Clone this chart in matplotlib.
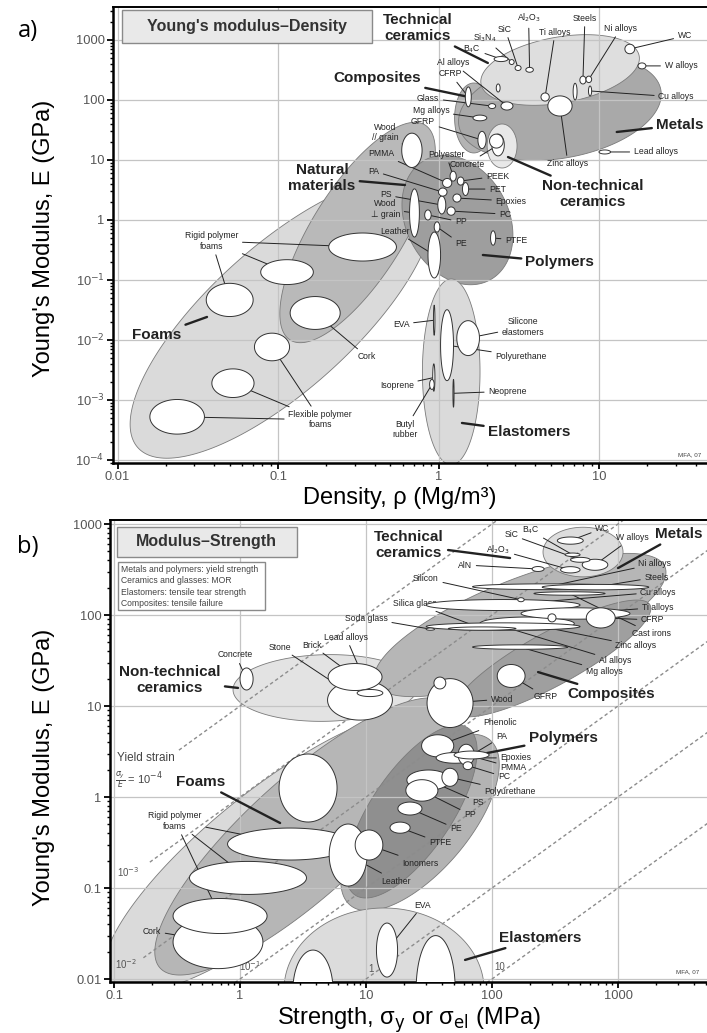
import numpy as np
import matplotlib
matplotlib.use("Agg")
import matplotlib.pyplot as plt
from matplotlib.patches import Rectangle
from matplotlib.ticker import FixedLocator, FixedFormatter, LogLocator, NullFormatter

plt.rcParams["font.family"] = ["Liberation Sans", "DejaVu Sans"]
plt.rcParams["mathtext.fontset"] = "dejavusans"

# ---------------- panel a: Young's modulus vs density ----------------
# material bubbles: density range (Mg/m^3), modulus range (GPa)
a_names = ["WC", "W alloys", "Cu alloys", "Steels", "Ni alloys", "Cast irons",
           "Ti alloys", "Zinc alloys", "Al2O3", "SiC", "Si3N4", "B4C",
           "Al alloys", "Glass", "CFRP", "Glass ceramic", "Mg alloys", "GFRP",
           "Concrete", "Stone", "Lead alloys", "Wood //", "Wood ⊥", "Leather",
           "Cork", "PTFE", "PE", "PP", "Polyester", "PMMA", "PEEK", "PET", "PA",
           "Epoxies", "PS", "PC", "EVA", "Polyurethane", "Silicone elastomers",
           "Isoprene", "Butyl rubber", "Neoprene",
           "RPF1", "RPF2", "RPF3", "FPF1", "FPF2", "FPF3"]
a_rho = [(14.5, 16.7), (17.5, 19.6), (8.6, 9.0), (7.6, 8.3), (8.3, 9.0), (6.9, 7.3),
         (4.35, 4.9), (4.8, 6.8), (3.5, 3.9), (3.0, 3.27), (2.76, 2.96), (2.22, 2.71),
         (2.45, 2.91), (2.05, 2.27), (1.47, 1.6), (2.29, 2.42), (1.64, 2.0), (1.76, 1.98),
         (2.15, 2.57), (2.08, 2.53), (10.0, 11.8), (0.59, 0.79), (0.66, 0.76), (0.86, 1.03),
         (0.119, 0.244), (2.11, 2.27), (0.94, 1.02), (0.82, 0.9), (1.18, 1.29), (1.06, 1.21),
         (1.31, 1.44), (1.41, 1.54), (1.0, 1.13),
         (1.23, 1.38), (0.99, 1.11), (1.13, 1.27), (0.93, 0.95), (1.03, 1.24), (1.3, 1.8),
         (0.92, 0.95), (0.88, 0.94), (1.23, 1.25),
         (0.207, 0.547), (0.078, 0.166), (0.0357, 0.070), (0.0713, 0.118), (0.0387, 0.0709),
         (0.0159, 0.0348)]
a_E = [(590, 850), (330, 415), (117, 171), (185, 250), (195, 250), (100, 190),
       (96, 131), (54, 117), (290, 350), (310, 376), (390, 472), (437, 530),
       (68, 93), (72, 87), (77, 165), (136, 185), (45, 56), (15.5, 30),
       (11.7, 27), (15.8, 27), (12.6, 14.7), (7.5, 28), (0.52, 3.3), (0.108, 0.63),
       (0.015, 0.053), (0.38, 0.66), (0.63, 0.93), (1.0, 1.47), (4.45, 6.5), (3.49, 4.92),
       (3.82, 5.2), (2.56, 4.2), (2.5, 3.41),
       (1.99, 2.71), (1.26, 2.51), (1.2, 1.65), (0.012, 0.038), (0.0021, 0.032), (0.0055, 0.021),
       (0.0014, 0.004), (0.0015, 0.0022), (0.00076, 0.0022),
       (0.207, 0.607), (0.084, 0.218), (0.0246, 0.088), (0.0045, 0.013), (0.0011, 0.0033),
       (0.00027, 0.00102)]

# family envelopes: the two far ends (density, modulus) and width/length ratio
a_env = ["Foams", "Natural materials", "Polymers", "Elastomers", "Composites",
         "Metals", "Technical ceramics", "Non-technical ceramics"]
a_env_p1 = [(0.0134, 1.6e-4), (0.119, 0.01), (0.824, 10), (1.20, 0.104), (1.66, 192),
            (1.34, 37), (1.84, 185), (2.49, 39.8)]
a_env_p2 = [(0.831, 3.41), (0.824, 38.3), (2.09, 0.1), (1.20, 8.3e-5), (1.66, 13.1),
            (24.3, 147), (17.8, 541), (2.49, 7.36)]
a_env_ratio = [0.37, 0.36, 0.75, 0.31, 0.55, 0.49, 0.41, 0.68]

# ---------------- panel b: modulus vs strength ----------------
# material bubbles: strength range (MPa), modulus range (GPa)
b_names = ["WC", "W alloys", "B4C", "SiC", "Al2O3", "AlN", "Ni alloys", "Steels",
           "Cu alloys", "Ti alloys", "Cast irons", "CFRP", "Zinc alloys", "Al alloys",
           "Mg alloys", "Silica glass", "Soda glass", "Silicon", "Glass ceramic", "GFRP",
           "Wood", "Wood ⊥", "Lead alloys", "Brick", "Stone", "Concrete",
           "Phenolic", "PA", "Epoxies", "PMMA", "PC", "Polyurethane", "PS", "PP", "PE",
           "PTFE", "Ionomers", "Leather", "Dense foam", "RPF1", "RPF2", "RPF3", "Cork",
           "Silicone elastomers", "EVA", "Polyurethane elastomer"]
b_sigma = [(330, 530), (520, 830), (380, 500), (420, 600), (350, 500), (208, 259), (70, 1100), (250, 1755),
           (30, 500), (170, 1245), (215, 790), (560, 950), (80, 450), (30, 500),
           (70, 400), (45, 155), (30, 35), (160, 180), (278, 322), (110, 183),
           (30.5, 70.7), (34.6, 43), (8.5, 13.6), (5.0, 13.4), (4.95, 16.2), (1.0, 1.27),
           (27.6, 49.7), (50, 94.8), (36, 71.7), (53.8, 72.4), (59, 70), (40, 53.8), (21.1, 46.4),
           (20.7, 37.2), (17.9, 27.8),
           (15.5, 22.4), (8.2, 13.6), (5.1, 10.2), (2.04, 5.89), (0.796, 7.81), (0.397, 3.37),
           (0.294, 1.64), (0.294, 1.52),
           (2.63, 5.47), (12.1, 17.8), (25, 51)]
b_E = [(600, 720), (310, 410), (440, 480), (380, 430), (290, 340), (301, 341), (190, 220), (189, 217),
       (112, 148), (90, 120), (165, 180), (72, 120), (68, 95), (68, 82),
       (42, 47), (68, 74), (68, 72), (140, 155), (84, 103), (16, 28.6),
       (5.8, 20), (15.4, 20.8), (12.7, 15.2), (14.8, 29.3), (7.0, 19.3), (15, 26.2),
       (2.76, 4.83), (2.62, 3.2), (2.35, 3.08), (2.24, 3.8), (2.0, 2.44), (1.31, 2.07), (1.19, 1.98),
       (0.9, 1.55), (0.634, 0.88),
       (0.40, 0.53), (0.203, 0.434), (0.105, 0.505), (0.531, 2.97), (0.203, 0.456), (0.085, 0.196),
       (0.0316, 0.0767), (0.013, 0.05),
       (0.00275, 0.0208), (0.0105, 0.0412), (0.002, 0.03)]

b_env = ["Non-technical ceramics", "Foams outer", "Foams", "Metals", "Composites",
         "Polymers outer", "Polymers", "Technical ceramics", "Elastomers"]
b_env_p1 = [(0.88, 15.0), (0.0896, 0.0086), (0.232, 0.0132), (11.8, 17.9), (50.9, 8.6),
            (7.46, 0.065), (8.18, 0.0838), (254, 492), (13.9, 0.0603)]
b_env_p2 = [(25.9, 16.6), (38.7, 7.02), (46.4, 10.3), (2360, 337), (1795, 129),
            (96.4, 4.23), (64.5, 5.73), (1096, 492), (13.9, 0.00095)]
b_env_ratio = [0.36, 0.30, 0.30, 0.29, 0.24, 0.45, 0.40, 0.62, 1.22]

# yield strain guide lines sigma_y / E
b_strain = [1e-4, 1e-3, 1e-2, 1e-1, 1, 10]
b_strain_text = ["", "10$^{-3}$", "10$^{-2}$", "10$^{-1}$", "1", "10"]

# ---------------- styles ----------------
a_env_fill = {"Foams": "#dadada", "Natural materials": "#b9b9b9", "Polymers": "#9e9e9e",
              "Elastomers": "#dadada", "Composites": "#b3b3b3", "Metals": "#a9a9a9",
              "Technical ceramics": "#dedede", "Non-technical ceramics": "#e8e8e8"}
b_env_fill = {"Non-technical ceramics": "#e3e3e3", "Foams outer": "#dadada", "Foams": "#b6b6b6",
              "Metals": "#b6b6b6", "Composites": "#9f9f9f", "Polymers outer": "#b3b3b3",
              "Polymers": "#8f8f8f", "Technical ceramics": "#dddddd", "Elastomers": "#dcdcdc"}

# labels: text, target (bubble name, list of names or data point), offset in pixels
a_small = [("WC", "WC", 55, 13), ("W alloys", "W alloys", 39, 0), ("Cu alloys", "Cu alloys", 86, -6),
           ("Steels", "Steels", 2, 62), ("Ni alloys", "Ni alloys", 32, 51), ("Ti alloys", "Ti alloys", 10, 65),
           ("Al$_2$O$_3$", "Al2O3", -1, 52), ("SiC", "SiC", -13, 39), ("Si$_3$N$_4$", "Si3N4", -27, 24),
           ("B$_4$C", "B4C", -29, 10), ("Al alloys", "Al alloys", -54, 43), ("CFRP", "CFRP", -18, 23),
           ("Glass", "Glass", -64, 8), ("Mg alloys", "Mg alloys", -49, 7), ("GFRP", "GFRP", -59, 18),
           ("Wood\n// grain", "Wood //", -27, 18), ("Polyester", "Polyester", -7, 22),
           ("PMMA", "PMMA", -66, 29), ("PA", "PA", -69, 21), ("PEEK", "PEEK", 37, 5), ("PET", "PET", 32, 0),
           ("Epoxies", "Epoxies", 54, -3), ("PC", "PC", 54, -3), ("PS", "PS", -56, 10),
           ("Wood\n⊥ grain", "Wood ⊥", -29, 4), ("PP", "PP", 33, -7), ("PE", "PE", 24, -17),
           ("PTFE", "PTFE", 23, -2), ("Leather", "Leather", -39, 24), ("Concrete", "Concrete", -31, -19),
           ("Zinc alloys", "Zinc alloys", 8, -58), ("Lead alloys", "Lead alloys", 51, 0),
           ("EVA", "EVA", -33, -4), ("Silicone\nelastomers", "Silicone elastomers", 55, 11),
           ("Polyurethane", "Polyurethane", 74, -11), ("Isoprene", "Isoprene", -37, -8),
           ("Neoprene", "Neoprene", 54, 2), ("Butyl\nrubber", "Butyl rubber", -27, -45),
           ("Cork", "Cork", 52, -44),
           ("Rigid polymer\nfoams", ["RPF1", "RPF2", "RPF3"], -151, 6),
           ("Flexible polymer\nfoams", ["FPF3", "FPF2", "FPF1"], 143, -3)]
a_bold = [("Technical\nceramics", (2.03, 414), -70, 35), ("Composites", "CFRP", -91, 19),
          ("Natural\nmaterials", (0.618, 3.83), -83, 7), ("Metals", (12.9, 29.3), 63, 7),
          ("Non-technical\nceramics", (2.71, 11.2), 85, -37), ("Polymers", (1.89, 0.261), 77, -7),
          ("Elastomers", (1.40, 4.14e-4), 67, -9), ("Foams", (0.0361, 0.0242), -50, -18)]

b_small = [("WC", "WC", 32, 12), ("B$_4$C", "B4C", -42, 24), ("SiC", "SiC", -69, 25),
           ("Al$_2$O$_3$", "Al2O3", -72, 20), ("AlN", "AlN", -73, 4), ("W alloys", "W alloys", 37, 27),
           ("Ni alloys", "Ni alloys", 107, 23), ("Steels", "Steels", 61, 10),
           ("Cu alloys", "Cu alloys", 155, 13), ("Ti alloys", "Ti alloys", 82, 6), ("CFRP", "CFRP", 52, -2),
           ("Cast irons", "Cast irons", 82, -40), ("Zinc alloys", "Zinc alloys", 109, -22),
           ("Al alloys", "Al alloys", 112, -34), ("Mg alloys", "Mg alloys", 84, -24),
           ("GFRP", "GFRP", 35, -21), ("Wood", "Wood", 52, 4), ("Silicon", "Silicon", -95, 21),
           ("Silica glass", "Silica glass", -67, 25), ("Soda glass", "Soda glass", -64, 11),
           ("Lead alloys", "Lead alloys", -24, 56), ("Brick", "Brick", -43, 32), ("Stone", "Stone", -80, 53),
           ("Concrete", "Concrete", -11, 24), ("Phenolic", "Phenolic", 62, 23), ("PA", "PA", 30, 18),
           ("Epoxies", "Epoxies", 61, 0), ("PMMA", "PMMA", 47, -13), ("PC", "PC", 36, -11),
           ("Polyurethane", "Polyurethane", 60, -14), ("PS", "PS", 50, -22), ("PP", "PP", 48, -24),
           ("PE", "PE", 46, -20), ("PTFE", "PTFE", 40, -15), ("Ionomers", "Ionomers", 51, -18),
           ("Leather", "Leather", 48, -26), ("Silicone\nelastomers", "Silicone elastomers", 65, 90),
           ("EVA", "EVA", 36, 45), ("Polyurethane", "Polyurethane elastomer", 22, 73),
           ("Rigid polymer\nfoams", ["RPF1", "RPF2", "RPF3"], -115, 23), ("Cork", "Cork", -66, 11)]
b_bold = [("Technical\nceramics", (139, 423), -101, 13), ("Metals", (1000, 328), 61, 34),
          ("Non-technical\nceramics", (0.964, 15.8), -68, 8), ("Composites", (232, 23.6), 73, -22),
          ("Polymers", (91.2, 3.04), 76, 15), ("Foams", (2.08, 0.518), -79, 41),
          ("Elastomers", (61.1, 0.0162), 75, 22)]


def ellipse_band(ax, p1, p2, ratio, n=240):
    ends = ax.transData.transform([p1, p2])
    mid = ends.mean(axis=0)
    half = (ends[1] - ends[0]) / 2
    a = np.hypot(*half)
    ang = np.arctan2(half[1], half[0])
    t = np.linspace(0, 2 * np.pi, n)
    u, v = a * np.cos(t), a * ratio * np.sin(t)
    pts = np.column_stack([mid[0] + u * np.cos(ang) - v * np.sin(ang),
                           mid[1] + u * np.sin(ang) + v * np.cos(ang)])
    return ax.transData.inverted().transform(pts)


def bubble(xr, yr, n=90):
    lx, ly = np.log10(xr), np.log10(yr)
    t = np.linspace(0, 2 * np.pi, n)
    return (10 ** (lx.mean() + (lx[1] - lx[0]) / 2 * np.cos(t)),
            10 ** (ly.mean() + (ly[1] - ly[0]) / 2 * np.sin(t)))


def style_axes(ax, xlim, ylim, xt, xl, yt, yl):
    ax.set_xscale("log")
    ax.set_yscale("log")
    ax.set_xlim(*xlim)
    ax.set_ylim(*ylim)
    ax.xaxis.set_major_locator(FixedLocator(xt))
    ax.xaxis.set_major_formatter(FixedFormatter(xl))
    ax.yaxis.set_major_locator(FixedLocator(yt))
    ax.yaxis.set_major_formatter(FixedFormatter(yl))
    for axis in (ax.xaxis, ax.yaxis):
        axis.set_minor_locator(LogLocator(base=10, subs=np.arange(2, 10), numticks=30))
        axis.set_minor_formatter(NullFormatter())
    ax.tick_params(which="major", direction="out", length=4, width=1.3,
                   labelsize=9.3, labelcolor="#555555", pad=2)
    ax.tick_params(which="minor", direction="out", length=2.5, width=1)
    ax.set_axisbelow("line")
    ax.grid(True, which="major", color="#c4c4c4", lw=0.9)
    for s in ("left", "bottom"):
        ax.spines[s].set_linewidth(1.8)
    ax.spines["top"].set_linewidth(1.4)
    ax.spines["right"].set_visible(False)


def draw_panel(ax, names, xr, yr, env, p1s, p2s, ratios, fills):
    for name, p1, p2, r in zip(env, p1s, p2s, ratios):
        pts = ellipse_band(ax, p1, p2, r)
        ax.fill(pts[:, 0], pts[:, 1], fc=fills[name], ec="#7a7a7a", lw=0.6, zorder=1)
    size = [np.log10(x[1] / x[0]) * np.log10(y[1] / y[0]) for x, y in zip(xr, yr)]
    centers = {}
    for i in np.argsort(size)[::-1]:
        x, y = bubble(xr[i], yr[i])
        ax.fill(x, y, fc="white", ec="#333333", lw=0.7, zorder=3)
        centers[names[i]] = (np.sqrt(xr[i][0] * xr[i][1]), np.sqrt(yr[i][0] * yr[i][1]))
    return centers


def put_labels(ax, labels, centers, size, weight, lw):
    for text, target, dx, dy in labels:
        targets = target if isinstance(target, list) else [target]
        pts = [centers[t] if isinstance(t, str) else t for t in targets]
        base = ax.transData.transform(pts[0]) + np.array([dx, dy])
        for k, p in enumerate(pts):
            ax.annotate(text, xy=p, xytext=base, textcoords="figure pixels",
                        ha="center", va="center", fontsize=size, fontweight=weight,
                        color="#222222" if k == 0 else "none",
                        arrowprops=dict(arrowstyle="-", color="#222222", lw=lw,
                                        shrinkA=1, shrinkB=0),
                        zorder=2.6)


fig = plt.figure(figsize=(7.07, 10.33), dpi=100)
ax_a = fig.add_axes([113 / 707, 1 - 463 / 1033, 594 / 707, 456 / 1033])
ax_b = fig.add_axes([110 / 707, 1 - 982 / 1033, 597 / 707, 462 / 1033])

style_axes(ax_a, (0.00937, 47.1), (8.91e-5, 3548),
           [0.01, 0.1, 1, 10], ["0.01", "0.1", "1", "10"],
           [1e-4, 1e-3, 1e-2, 1e-1, 1, 10, 100, 1000],
           ["10$^{-4}$", "10$^{-3}$", "10$^{-2}$", "10$^{-1}$", "1", "10", "100", "1000"])
style_axes(ax_b, (0.0929, 5085), (0.00927, 1107),
           [0.1, 1, 10, 100, 1000], ["0.1", "1", "10", "100", "1000"],
           [0.01, 0.1, 1, 10, 100, 1000], ["0.01", "0.1", "1", "10", "100", "1000"])

# panel a
ca = draw_panel(ax_a, a_names, a_rho, a_E, a_env, a_env_p1, a_env_p2, a_env_ratio, a_env_fill)
put_labels(ax_a, a_small, ca, 6.2, "normal", 0.7)
put_labels(ax_a, a_bold, ca, 11, "bold", 1.7)

ax_a.add_patch(Rectangle((0.015, 0.921), 0.421, 0.072, transform=ax_a.transAxes,
                         fc="#e9e9e9", ec="#8a8a8a", lw=1, zorder=5))
ax_a.text(0.2255, 0.957, "Young's modulus–Density", transform=ax_a.transAxes,
          ha="center", va="center", fontsize=11.5, fontweight="bold", color="#333333", zorder=6)
ax_a.text(0.971, 0.0175, "MFA, 07", transform=ax_a.transAxes, ha="center", va="center",
          fontsize=4.5, color="#444444", zorder=6)

# panel b: guide lines first, then the rest
sig = np.logspace(-1.1, 4, 200)
start = [0.32, 0.19, 0.17, 0.09, 0.09, 0.09]
lbl_sigma = [None, 0.13, 0.125, 1.2, 11, 115]
for eps, s0, ls, txt in zip(b_strain, start, lbl_sigma, b_strain_text):
    s = sig[sig >= s0]
    ax_b.plot(s, s / (1000 * eps), color="#8c8c8c", lw=1, dashes=(2.5, 2), zorder=2)
    if ls is not None:
        ax_b.annotate(txt, xy=(ls, ls / (1000 * eps)), xytext=(0, 6), textcoords="offset pixels",
                      ha="center", va="center", fontsize=7, color="#555555", zorder=2.6)

cb = draw_panel(ax_b, b_names, b_sigma, b_E, b_env, b_env_p1, b_env_p2, b_env_ratio, b_env_fill)
put_labels(ax_b, b_small, cb, 6.2, "normal", 0.7)
put_labels(ax_b, b_bold, cb, 11, "bold", 1.7)

ax_b.add_patch(Rectangle((0.0117, 0.920), 0.3015, 0.065, transform=ax_b.transAxes,
                         fc="#e9e9e9", ec="#8a8a8a", lw=1, zorder=5))
ax_b.text(0.162, 0.9525, "Modulus–Strength", transform=ax_b.transAxes,
          ha="center", va="center", fontsize=11.5, fontweight="bold", color="#333333", zorder=6)
ax_b.add_patch(Rectangle((0.0134, 0.805), 0.246, 0.104, transform=ax_b.transAxes,
                         fc="white", ec="#8a8a8a", lw=1, zorder=5))
legend_lines = ["Metals and polymers: yield strength", "Ceramics and glasses: MOR",
                "Elastomers: tensile tear strength", "Composites: tensile failure"]
for k, line in enumerate(legend_lines):
    ax_b.text(0.019, 0.893 - k * 0.0245, line, transform=ax_b.transAxes, ha="left", va="center",
              fontsize=6.2, color="#444444", zorder=6)
ax_b.text(0.012, 0.485, "Yield strain", transform=ax_b.transAxes, ha="left", va="center",
          fontsize=8.5, color="#444444", zorder=6)
ax_b.text(0.008, 0.437, r"$\frac{\sigma_y}{E}$ = 10$^{-4}$", transform=ax_b.transAxes,
          ha="left", va="center", fontsize=8, color="#444444", zorder=6)
ax_b.text(0.968, 0.0216, "MFA, 07", transform=ax_b.transAxes, ha="center", va="center",
          fontsize=4.5, color="#444444", zorder=6)

# figure level text
fig.text(28 / 707, 1 - 31 / 1033, "a)", fontsize=17, ha="center", va="center", family="Open Sans")
fig.text(28 / 707, 1 - 547 / 1033, "b)", fontsize=17, ha="center", va="center", family="Open Sans")
fig.text(44 / 707, 1 - 238 / 1033, "Young's Modulus, E (GPa)", rotation=90,
         fontsize=17, ha="center", va="center")
fig.text(44 / 707, 1 - 767 / 1033, "Young's Modulus, E (GPa)", rotation=90,
         fontsize=17, ha="center", va="center")
fig.text(400 / 707, 1 - 498 / 1033, "Density, ρ (Mg/m³)", fontsize=17, ha="center", va="center")
fig.text(409 / 707, 1 - 1020 / 1033, r"Strength, σ$_\mathrm{y}$ or σ$_\mathrm{el}$ (MPa)",
         fontsize=17, ha="center", va="center")

fig.savefig("out.png", dpi=100)
